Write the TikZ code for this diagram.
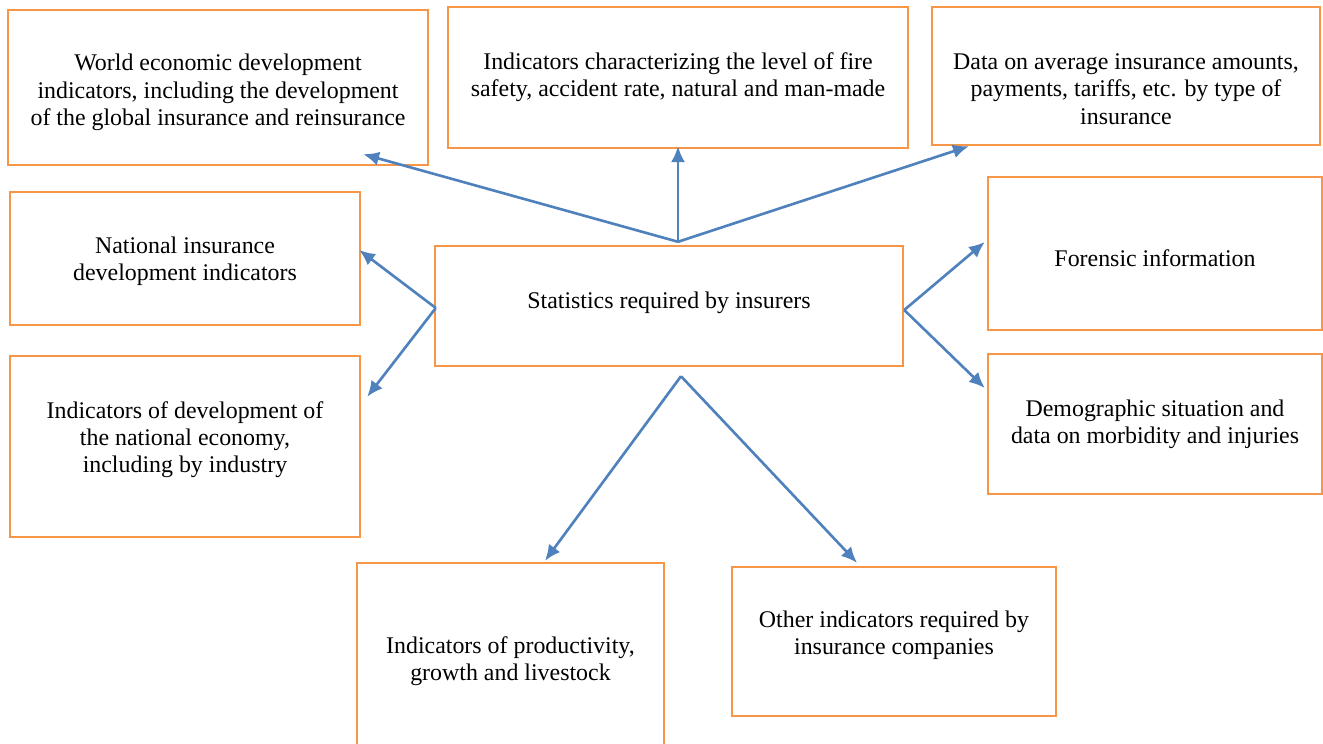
\documentclass[tikz,border=0pt]{standalone}
\usepackage{fontspec}
\setmainfont{Liberation Serif}
\usetikzlibrary{arrows.meta}
\definecolor{boxorange}{HTML}{F79646}
\definecolor{linkblue}{HTML}{4F81BD}
\tikzset{
  box/.style n args={2}{draw=boxorange,line width=1.4pt,align=center,inner sep=0pt,
    minimum width=#1*0.02cm,minimum height=#2*0.02cm},
  link/.style={->,draw=linkblue,line width=1.5pt},
}
% struts that move the text of a box down (\drop) or up (\lift)
\newcommand{\drop}[1]{\rule{0pt}{#1}}
\newcommand{\lift}[1]{\rule[-#1]{0pt}{#1}}

\begin{document}
\begin{tikzpicture}[x=0.02cm,y=-0.02cm,>={Latex[length=9pt,width=8pt]},font=\fontsize{13.6}{15.4}\selectfont]
	\useasboundingbox (0,0) rectangle (1323,744);
	\node[box={468}{120}] (stat) at (669,306) {Statistics required by insurers\lift{6.4pt}};

	\node[box={420}{155}] (world) at (218,87.5) {\drop{14.9pt}World economic development\\indicators, including the development\\of the global insurance and reinsurance};
	\node[box={460}{141}] (fire) at (678,77.5) {Indicators characterizing the level of fire\\safety, accident rate, natural and man-made};
	\node[box={388}{138}] (data) at (1126,76) {\drop{24pt}Data on average insurance amounts,\\payments, tariffs, etc. by type of\\insurance};
	\node[box={350}{133}] (natl) at (185,258.5) {\drop{12.7pt}National insurance\\development indicators};
	\node[box={350}{181}] (econ) at (185,446.5) {Indicators of development of\\the national economy,\\including by industry\lift{11pt}};
	\node[box={334}{153}] (forensic) at (1155,253.5) {\drop{14.9pt}Forensic information};
	\node[box={334}{140}] (demo) at (1155,424) {Demographic situation and\\data on morbidity and injuries};
	\node[box={307}{190}] (prod) at (510.5,658) {\drop{12.7pt}Indicators of productivity,\\growth and livestock};
	\node[box={324}{149}] (other) at (894,641.5) {Other indicators required by\\insurance companies\lift{9.8pt}};

	% fork points of the arrows
	\coordinate (up) at ([shift={(9,-3)}]stat.north);
	\coordinate (left) at ([shift={(2,2)}]stat.west);
	\coordinate (right) at ([shift={(0,4)}]stat.east);
	\coordinate (down) at ([shift={(12,9)}]stat.south);

	\draw[link] (up) -- ([shift={(-66,-12)}]world.south east);
	\draw[link] (up) -- ([shift={(0,-3)}]fire.south);
	\draw[link] (up) -- ([shift={(38,0)}]data.south west);
	\draw[link] (left) -- ([shift={(-2,-8.5)}]natl.east);
	\draw[link] (left) -- ([shift={(6,42)}]econ.north east);
	\draw[link] (right) -- ([shift={(-2,-11.5)}]forensic.west);
	\draw[link] (right) -- ([shift={(-2,-36)}]demo.west);
	\draw[link] (down) -- ([shift={(34.5,-1)}]prod.north);
	\draw[link] (down) -- ([shift={(-37,-3)}]other.north);
\end{tikzpicture}
\end{document}
